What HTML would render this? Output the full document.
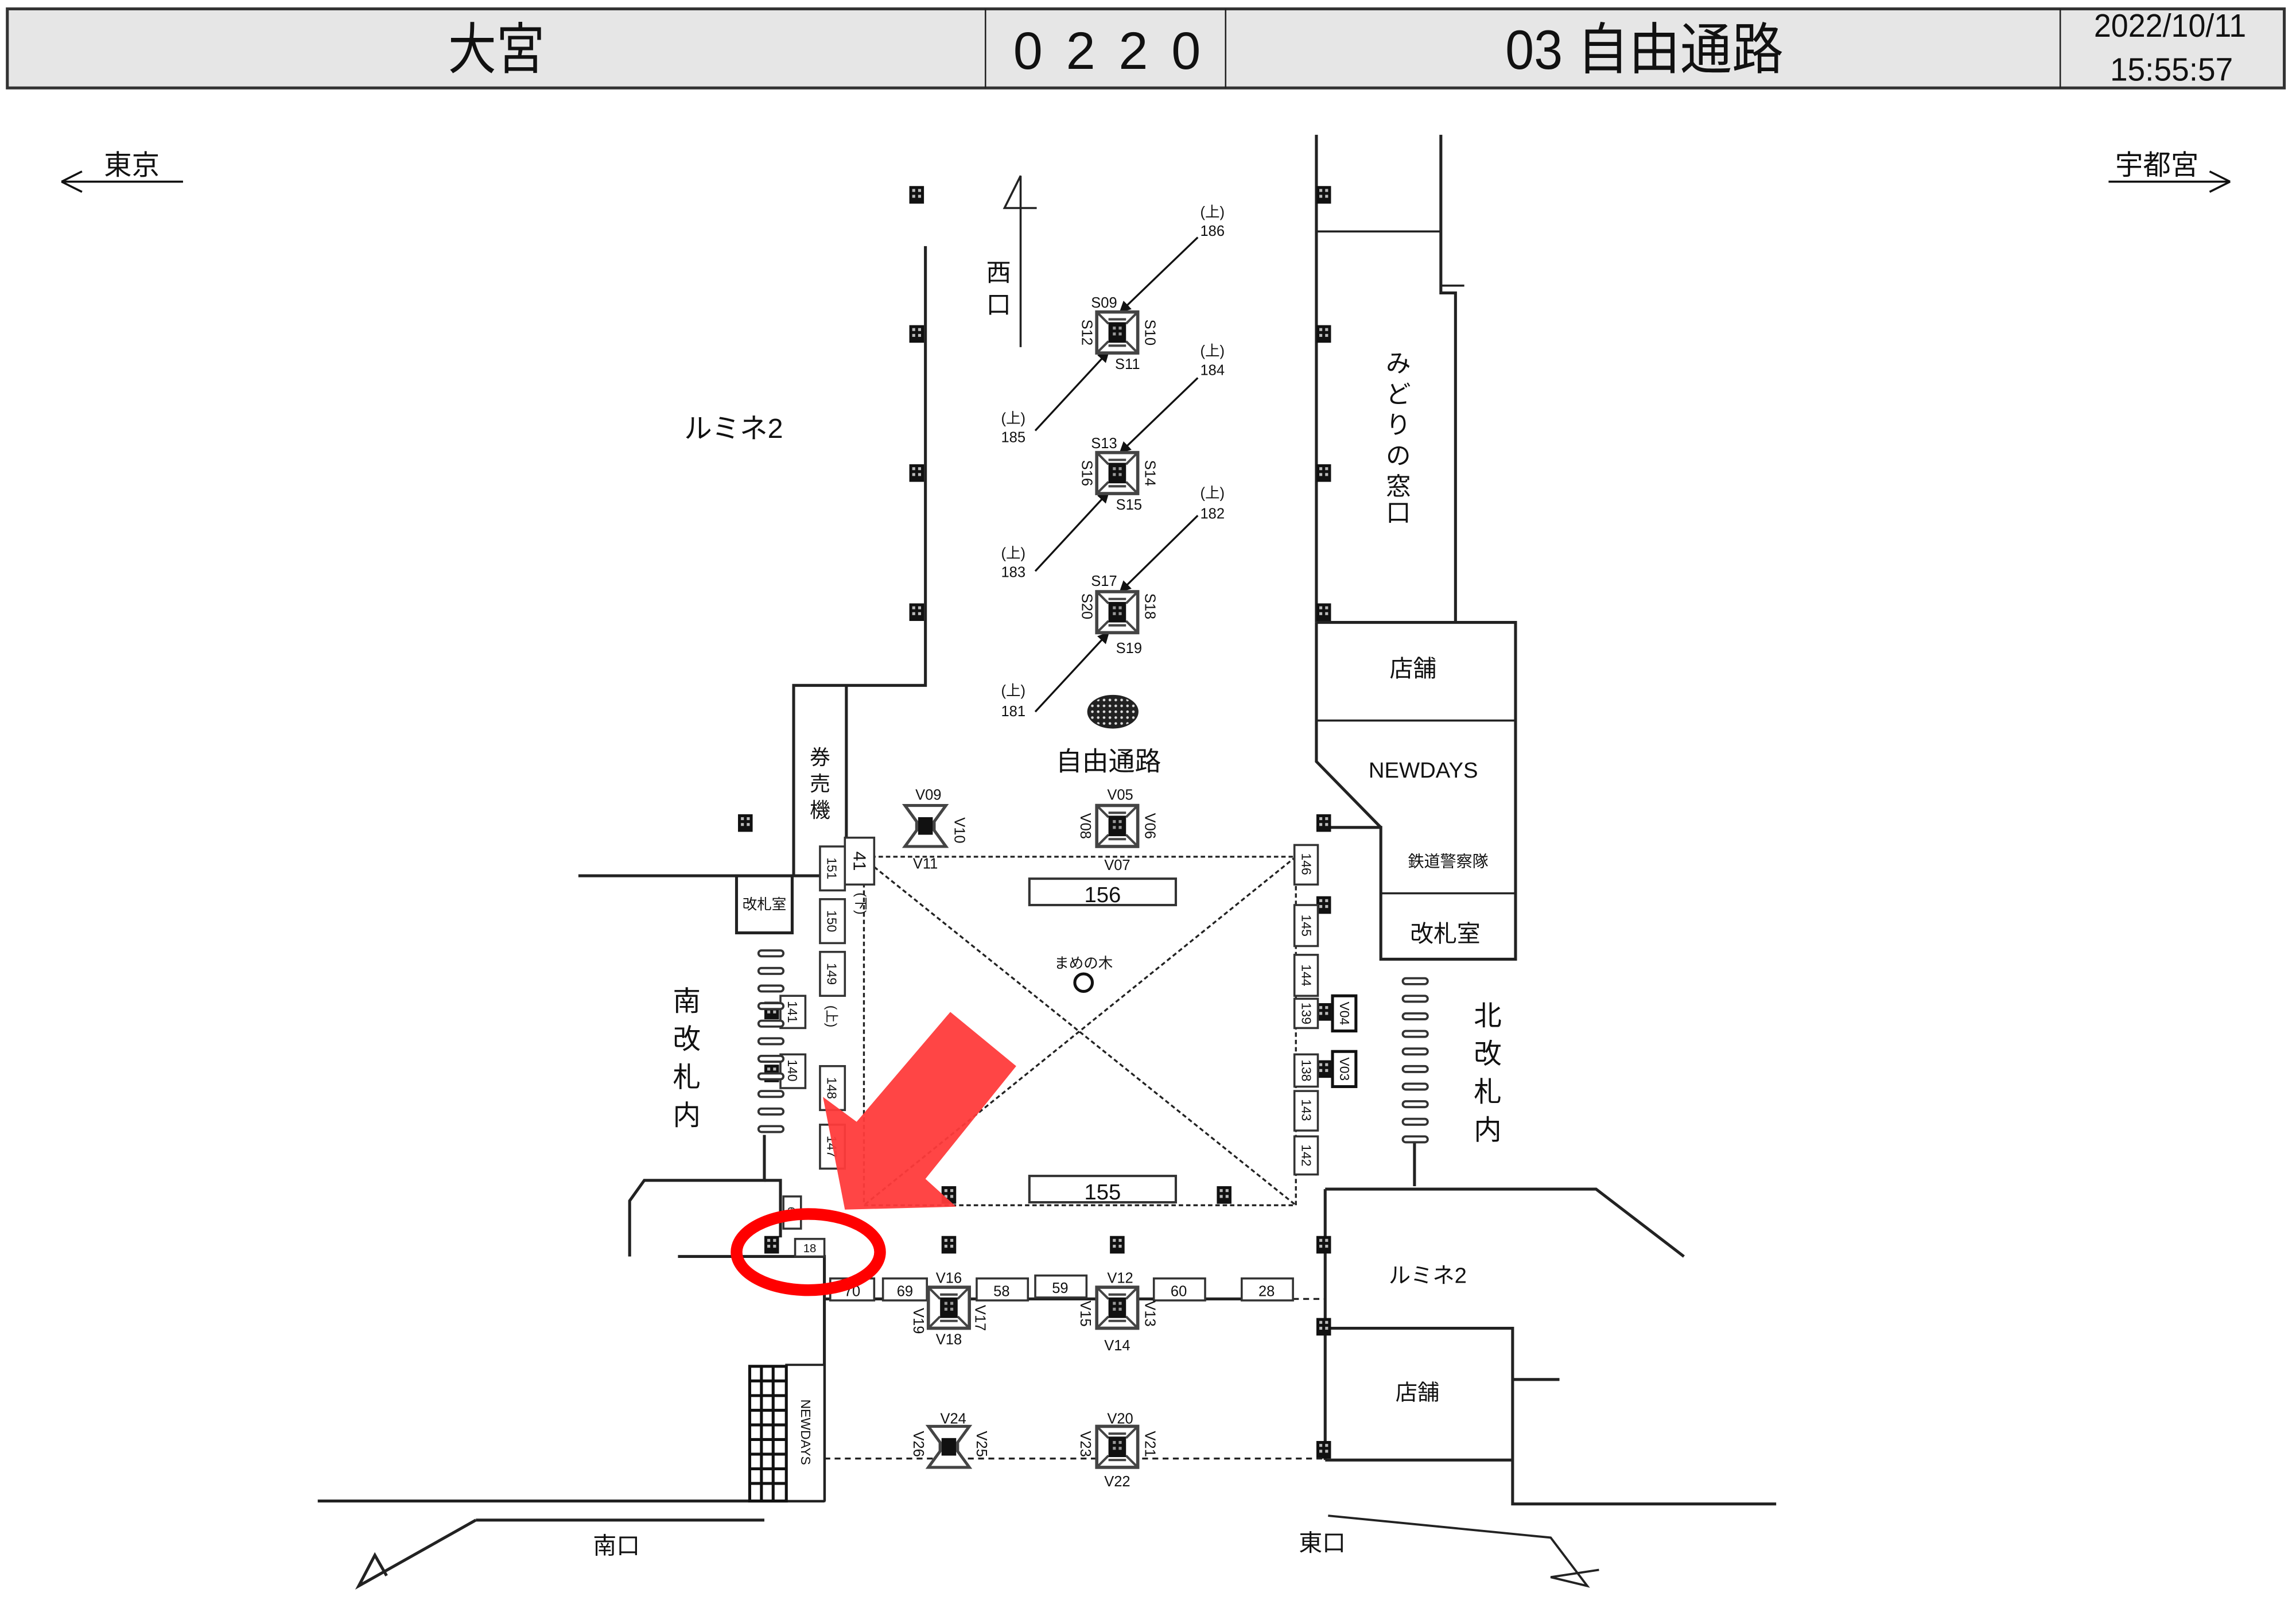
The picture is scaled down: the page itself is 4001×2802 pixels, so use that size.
<!DOCTYPE html>
<html><head><meta charset="utf-8">
<style>
html,body{margin:0;padding:0;background:#fff;}
svg{display:block;}
text{font-family:"Liberation Sans","Noto Sans CJK JP",sans-serif;fill:#111;}
</style></head>
<body>
<svg width="4001" height="2802" viewBox="0 0 1568 1098" xmlns="http://www.w3.org/2000/svg">
<defs>
  <g id="pl"><rect x="-5" y="-6" width="10" height="12" fill="#111"/><g fill="#bbb"><rect x="-3" y="-4" width="2" height="2"/><rect x="1" y="-4" width="2" height="2"/><rect x="-3" y="0" width="2" height="2"/><rect x="1" y="0" width="2" height="2"/></g></g>
  <g id="esc"><rect x="-14" y="-14" width="28" height="28" fill="#fff" stroke="#444" stroke-width="2.2"/>
    <path d="M-14 -14L-6 -6M14 -14L6 -6M-14 14L-6 6M14 14L6 6M-6 -9H6M-6 9H6" stroke="#444" stroke-width="1.6" fill="none"/>
    <rect x="-6" y="-7" width="12" height="14" fill="#111"/><g fill="#999"><rect x="-3" y="-4" width="2" height="2"/><rect x="1" y="-4" width="2" height="2"/><rect x="-3" y="0" width="2" height="2"/><rect x="1" y="0" width="2" height="2"/></g></g>
  <g id="hg"><path d="M-14 -14H14L6 -3V3L14 14H-14L-6 3V-3Z" fill="#fff" stroke="#444" stroke-width="2"/>
    <rect x="-5" y="-6" width="10" height="12" fill="#111"/></g>
  <marker id="ah" markerWidth="8" markerHeight="8" refX="7" refY="4" orient="auto" markerUnits="userSpaceOnUse"><path d="M0 0L8 4L0 8Z" fill="#111"/></marker>
  <pattern id="mesh" width="4" height="4" patternUnits="userSpaceOnUse"><rect width="4" height="4" fill="#222"/><circle cx="2" cy="2" r="0.9" fill="#ddd"/></pattern>
</defs>

<!-- header -->
<rect x="5" y="6" width="1555" height="54" fill="#e6e6e6" stroke="#333" stroke-width="2"/>
<path d="M673 6V60M837 6V60M1407 6V60" stroke="#222" stroke-width="1"/>
<text x="306" y="47" font-size="38" textLength="66" lengthAdjust="spacingAndGlyphs">大宮</text>
<text x="692" y="47" font-size="36" textLength="128" lengthAdjust="spacing">0220</text>
<text x="1028" y="47" font-size="38" textLength="190" lengthAdjust="spacingAndGlyphs">03 自由通路</text>
<text x="1430" y="25" font-size="22" textLength="104" lengthAdjust="spacingAndGlyphs">2022/10/11</text>
<text x="1441" y="55" font-size="22" textLength="84" lengthAdjust="spacingAndGlyphs">15:55:57</text>

<!-- direction arrows -->
<g stroke="#111" stroke-width="1.4" fill="none">
<path d="M42 124H125M42 124L56 117M42 124L56 131"/>
<path d="M1440 124H1523M1523 124L1509 117M1523 124L1509 131"/>
</g>
<text x="90" y="119" font-size="19" text-anchor="middle">東京</text>
<text x="1473" y="119" font-size="19" text-anchor="middle">宇都宮</text>

<g stroke="#222" stroke-width="2" fill="none">
<path d="M632 168V468H542V598"/>
<path d="M578 468V578"/>
<path d="M395 598H560"/>
<rect x="503" y="598" width="38" height="39"/>
<path d="M697 237V120L686 142H708" stroke-width="1.4"/>
<path d="M899 92V425"/>
<path d="M984 92V200H994V425"/>
<path d="M899 158H984M984 195H1000" stroke-width="1.4"/>
<path d="M899 425H1035V655H943V565H899"/>
<path d="M899 425V520L943 565"/>
<path d="M899 492H1035M943 610H1035" stroke-width="1.4"/>
<path d="M522 775V806H440L430 820V858"/>
<path d="M522 806H533V845"/>
<path d="M463 858H563V1025"/>
<path d="M217 1025H563"/>
<path d="M325 1038H522M325 1038L245 1083L256 1062L264 1076"/>
<path d="M966 778V810"/>
<path d="M905 812V997M905 812H1090L1150 858"/>
<path d="M905 907H1033V1027H1213M905 997H1033M1033 942H1065"/>
<path d="M907 1035L1059 1050L1084 1083L1059 1077L1092 1072" stroke-width="1.5"/>
<path d="M563 887H883"/>
</g>

<!-- pillars -->
<g>
<use href="#pl" x="626" y="133"/><use href="#pl" x="626" y="228"/><use href="#pl" x="626" y="323"/><use href="#pl" x="626" y="418"/>
<use href="#pl" x="904" y="133"/><use href="#pl" x="904" y="228"/><use href="#pl" x="904" y="323"/><use href="#pl" x="904" y="418"/>
<use href="#pl" x="904" y="562"/><use href="#pl" x="904" y="618"/><use href="#pl" x="904" y="691"/><use href="#pl" x="904" y="730"/>
<use href="#pl" x="904" y="850"/><use href="#pl" x="904" y="906"/><use href="#pl" x="904" y="990"/>
<use href="#pl" x="509" y="562"/><use href="#pl" x="527" y="690"/><use href="#pl" x="527" y="733"/><use href="#pl" x="527" y="850"/>
<use href="#pl" x="648" y="816"/><use href="#pl" x="836" y="816"/><use href="#pl" x="648" y="850"/><use href="#pl" x="763" y="850"/>
</g>

<g stroke="#111" stroke-width="1.3" marker-end="url(#ah)">
<path d="M818 162L765 213"/><path d="M707 294L757 240"/>
<path d="M818 258L765 309"/><path d="M707 390L757 336"/>
<path d="M818 352L765 404"/><path d="M707 486L757 432"/>
</g>
<g font-size="10" text-anchor="middle">
<text x="828" y="148">(上)</text><text x="828" y="161">186</text>
<text x="692" y="289">(上)</text><text x="692" y="302">185</text>
<text x="828" y="243">(上)</text><text x="828" y="256">184</text>
<text x="692" y="381">(上)</text><text x="692" y="394">183</text>
<text x="828" y="340">(上)</text><text x="828" y="354">182</text>
<text x="692" y="475">(上)</text><text x="692" y="489">181</text>
</g>
<use href="#esc" x="763" y="227"/><use href="#esc" x="763" y="323"/><use href="#esc" x="763" y="418"/>
<g font-size="10" text-anchor="middle">
<text x="754" y="210">S09</text><text x="770" y="252">S11</text>
<text x="742" y="227" transform="rotate(90 742 227)" dy="3">S12</text><text x="785" y="227" transform="rotate(90 785 227)" dy="3">S10</text>
<text x="754" y="306">S13</text><text x="771" y="348">S15</text>
<text x="742" y="323" transform="rotate(90 742 323)" dy="3">S16</text><text x="785" y="323" transform="rotate(90 785 323)" dy="3">S14</text>
<text x="754" y="400">S17</text><text x="771" y="446">S19</text>
<text x="742" y="414" transform="rotate(90 742 414)" dy="3">S20</text><text x="785" y="414" transform="rotate(90 785 414)" dy="3">S18</text>
</g>
<ellipse cx="760" cy="486" rx="17" ry="11" fill="url(#mesh)" stroke="#222"/>
<text x="757" y="526" font-size="18" text-anchor="middle">自由通路</text>

<text x="501" y="299" font-size="19" text-anchor="middle">ルミネ2</text>
<g font-size="17" text-anchor="middle">
<text x="682" y="192">西</text><text x="682" y="214">口</text>
<text x="955" y="254">み</text><text x="955" y="275">ど</text><text x="955" y="296">り</text><text x="955" y="317">の</text><text x="955" y="338">窓</text><text x="955" y="356">口</text>
<text x="560" y="522" font-size="14">券</text><text x="560" y="540" font-size="14">売</text><text x="560" y="558" font-size="14">機</text>
<text x="469" y="690" font-size="19">南</text><text x="469" y="716" font-size="19">改</text><text x="469" y="742" font-size="19">札</text><text x="469" y="768" font-size="19">内</text>
<text x="1016" y="700" font-size="19">北</text><text x="1016" y="726" font-size="19">改</text><text x="1016" y="752" font-size="19">札</text><text x="1016" y="778" font-size="19">内</text>
</g>
<text x="522" y="621" font-size="10" text-anchor="middle">改札室</text>
<text x="965" y="462" font-size="16" text-anchor="middle">店舗</text>
<text x="972" y="531" font-size="15" text-anchor="middle">NEWDAYS</text>
<text x="989" y="592" font-size="11" text-anchor="middle">鉄道警察隊</text>
<text x="987" y="643" font-size="16" text-anchor="middle">改札室</text>
<text x="975" y="876" font-size="15" text-anchor="middle">ルミネ2</text>
<text x="968" y="956" font-size="15" text-anchor="middle">店舗</text>
<text x="421" y="1061" font-size="16" text-anchor="middle">南口</text>
<text x="903" y="1059" font-size="16" text-anchor="middle">東口</text>

<g stroke="#222" stroke-width="1.3" stroke-dasharray="3,2" fill="none">
<rect x="590" y="585" width="295" height="238"/>
<path d="M597 592L885 823M885 585L590 823"/>
<path d="M563 996H905M883 887H905" stroke-dasharray="4,3"/>
</g>
<g stroke="#333" stroke-width="1.6" fill="#fff">
<rect x="703" y="600" width="100" height="18"/><rect x="703" y="803" width="100" height="18"/>
</g>
<text x="753" y="616" font-size="15" text-anchor="middle">156</text>
<text x="753" y="819" font-size="15" text-anchor="middle">155</text>
<text x="740" y="661" font-size="10" text-anchor="middle">まめの木</text>
<circle cx="740" cy="671" r="6" fill="none" stroke="#111" stroke-width="2"/>

<use href="#hg" x="632" y="564"/><use href="#esc" x="763" y="564"/>
<g font-size="10" text-anchor="middle">
<text x="634" y="546">V09</text><text x="632" y="593">V11</text>
<text x="655" y="567" transform="rotate(90 655 567)" dy="3">V10</text>
<text x="765" y="546">V05</text><text x="763" y="594">V07</text>
<text x="741" y="564" transform="rotate(90 741 564)" dy="3">V08</text><text x="785" y="564" transform="rotate(90 785 564)" dy="3">V06</text>
</g>

<g stroke="#333" stroke-width="1.4" fill="#fff">
<rect x="560" y="578" width="17" height="30"/><rect x="577" y="572" width="20" height="32"/>
<rect x="560" y="614" width="17" height="30"/><rect x="560" y="650" width="17" height="30"/>
<rect x="560" y="728" width="17" height="30"/><rect x="560" y="768" width="17" height="30"/>
<rect x="533" y="680" width="17" height="22"/><rect x="533" y="720" width="17" height="23"/>
<rect x="884" y="577" width="16" height="27"/><rect x="884" y="618" width="16" height="28"/>
<rect x="884" y="652" width="16" height="28"/><rect x="884" y="682" width="16" height="20"/>
<rect x="884" y="720" width="16" height="22"/><rect x="884" y="745" width="16" height="27"/>
<rect x="884" y="776" width="16" height="26"/>
<rect x="910" y="680" width="16" height="24" stroke="#111" stroke-width="2"/><rect x="910" y="718" width="16" height="24" stroke="#111" stroke-width="2"/>
<rect x="535" y="817" width="12" height="22"/><rect x="543" y="846" width="20" height="12"/>
<rect x="567" y="873" width="30" height="15"/><rect x="603" y="873" width="30" height="15"/>
<rect x="667" y="873" width="35" height="15"/><rect x="707" y="871" width="35" height="15"/>
<rect x="788" y="873" width="35" height="15"/><rect x="848" y="873" width="35" height="15"/>
</g>
<g font-size="9" text-anchor="middle">
<text x="568" y="593" transform="rotate(90 568 593)" dy="3">151</text>
<text x="587" y="588" transform="rotate(90 587 588)" dy="4" font-size="12">41</text>
<text x="568" y="629" transform="rotate(90 568 629)" dy="3">150</text>
<text x="568" y="665" transform="rotate(90 568 665)" dy="3">149</text>
<text x="568" y="743" transform="rotate(90 568 743)" dy="3">148</text>
<text x="568" y="783" transform="rotate(90 568 783)" dy="3">147</text>
<text x="568" y="694" transform="rotate(90 568 694)" dy="3">(上)</text>
<text x="588" y="617" transform="rotate(90 588 617)" dy="3">(下)</text>
<text x="541" y="691" transform="rotate(90 541 691)" dy="3">141</text>
<text x="541" y="731" transform="rotate(90 541 731)" dy="3">140</text>
<text x="892" y="590" transform="rotate(90 892 590)" dy="3">146</text>
<text x="892" y="632" transform="rotate(90 892 632)" dy="3">145</text>
<text x="892" y="666" transform="rotate(90 892 666)" dy="3">144</text>
<text x="892" y="692" transform="rotate(90 892 692)" dy="3">139</text>
<text x="892" y="731" transform="rotate(90 892 731)" dy="3">138</text>
<text x="892" y="758" transform="rotate(90 892 758)" dy="3">143</text>
<text x="892" y="789" transform="rotate(90 892 789)" dy="3">142</text>
<text x="918" y="692" transform="rotate(90 918 692)" dy="3">V04</text>
<text x="918" y="730" transform="rotate(90 918 730)" dy="3">V03</text>
<text x="541" y="828" transform="rotate(90 541 828)" dy="3" font-size="7">68</text>
<text x="553" y="855" font-size="8">18</text>
<text x="582" y="885" font-size="10">70</text><text x="618" y="885" font-size="10">69</text>
<text x="684" y="885" font-size="10">58</text><text x="724" y="883" font-size="10">59</text>
<text x="805" y="885" font-size="10">60</text><text x="865" y="885" font-size="10">28</text>
</g>

<use href="#esc" x="648" y="893"/><use href="#esc" x="763" y="893"/>
<use href="#hg" x="648" y="988"/><use href="#esc" x="763" y="988"/>
<g font-size="10" text-anchor="middle">
<text x="648" y="876">V16</text><text x="648" y="918">V18</text>
<text x="627" y="902" transform="rotate(90 627 902)" dy="3">V19</text><text x="669" y="900" transform="rotate(90 669 900)" dy="3">V17</text>
<text x="765" y="876">V12</text><text x="763" y="922">V14</text>
<text x="741" y="897" transform="rotate(90 741 897)" dy="3">V15</text><text x="785" y="897" transform="rotate(90 785 897)" dy="3">V13</text>
<text x="651" y="972">V24</text>
<text x="627" y="986" transform="rotate(90 627 986)" dy="3">V26</text><text x="670" y="986" transform="rotate(90 670 986)" dy="3">V25</text>
<text x="765" y="972">V20</text><text x="763" y="1015">V22</text>
<text x="741" y="986" transform="rotate(90 741 986)" dy="3">V23</text><text x="785" y="986" transform="rotate(90 785 986)" dy="3">V21</text>
</g>

<g fill="#fff" stroke="#333" stroke-width="1.5">
<rect x="518" y="649" width="17" height="4" rx="2"/><rect x="518" y="661" width="17" height="4" rx="2"/><rect x="518" y="673" width="17" height="4" rx="2"/>
<rect x="518" y="685" width="17" height="4" rx="2"/><rect x="518" y="697" width="17" height="4" rx="2"/><rect x="518" y="709" width="17" height="4" rx="2"/>
<rect x="518" y="721" width="17" height="4" rx="2"/><rect x="518" y="733" width="17" height="4" rx="2"/><rect x="518" y="745" width="17" height="4" rx="2"/>
<rect x="518" y="757" width="17" height="4" rx="2"/><rect x="518" y="769" width="17" height="4" rx="2"/>
<rect x="958" y="668" width="17" height="4" rx="2"/><rect x="958" y="680" width="17" height="4" rx="2"/><rect x="958" y="692" width="17" height="4" rx="2"/>
<rect x="958" y="704" width="17" height="4" rx="2"/><rect x="958" y="716" width="17" height="4" rx="2"/><rect x="958" y="728" width="17" height="4" rx="2"/>
<rect x="958" y="740" width="17" height="4" rx="2"/><rect x="958" y="752" width="17" height="4" rx="2"/><rect x="958" y="764" width="17" height="4" rx="2"/>
<rect x="958" y="776" width="17" height="4" rx="2"/>
</g>

<rect x="537" y="932" width="26" height="93" fill="#fff" stroke="#222" stroke-width="1.5"/>
<text x="550" y="978" font-size="9" text-anchor="middle" transform="rotate(90 550 978)" dy="3">NEWDAYS</text>
<g stroke="#111" stroke-width="2" fill="none">
<rect x="512" y="933" width="25" height="92"/>
<path d="M520 933V1025M528 933V1025"/>
<path d="M512 943H537M512 953H537M512 963H537M512 973H537M512 983H537M512 993H537M512 1003H537M512 1013H537"/>
</g>

<polygon points="577,826 562,749 585,766 649,691 694,728 632,805 653,824" fill="#ff3b3b" fill-opacity="0.95"/>
<ellipse cx="552" cy="855" rx="49" ry="26" fill="none" stroke="#ff0000" stroke-width="8"/>
</svg>
</body></html>
